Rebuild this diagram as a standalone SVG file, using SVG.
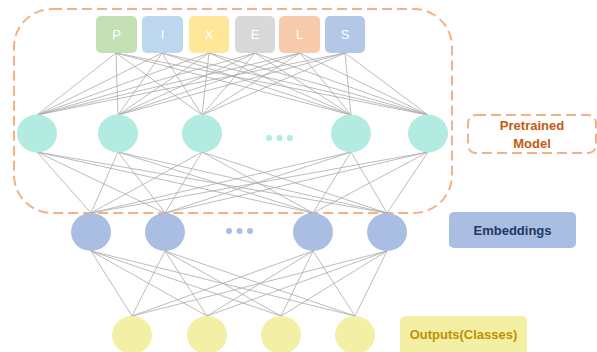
<svg xmlns="http://www.w3.org/2000/svg" width="597" height="352" viewBox="0 0 597 352">
<style>
.ln{stroke:#ababab;stroke-width:0.8;fill:none}
.dash{fill:none;stroke:#F4B183;stroke-width:2;stroke-dasharray:10 5}
.lt{font-family:"Liberation Sans",Arial,sans-serif;font-size:13px;fill:#ffffff;text-anchor:middle}
.lb{font-family:"Liberation Sans",Arial,sans-serif;font-size:13px;font-weight:bold;text-anchor:middle}
.cy{fill:#B2EBDF}
.bl{fill:#AABDE3}
.ye{fill:#F3F0A5}
</style>
<rect class="dash" x="14" y="9" width="438" height="204" rx="38" ry="38"/>
<g id="connectors">
<!-- letters to cyan -->
<path class="ln" d="M116,53L37,115M116,53L118,115M116,53L202,115M116,53L351,115M116,53L428,115
M162,53L37,115M162,53L118,115M162,53L202,115M162,53L351,115M162,53L428,115
M209,53L37,115M209,53L118,115M209,53L202,115M209,53L351,115M209,53L428,115
M255,53L37,115M255,53L118,115M255,53L202,115M255,53L351,115M255,53L428,115
M300,53L37,115M300,53L118,115M300,53L202,115M300,53L351,115M300,53L428,115
M345,53L37,115M345,53L118,115M345,53L202,115M345,53L351,115M345,53L428,115"/>
<!-- cyan to blue -->
<path class="ln" d="M37,152L91,213M37,152L165,213M37,152L313,213M37,152L387,213
M118,152L91,213M118,152L165,213M118,152L313,213M118,152L387,213
M202,152L91,213M202,152L165,213M202,152L313,213M202,152L387,213
M351,152L91,213M351,152L165,213M351,152L313,213M351,152L387,213
M428,152L91,213M428,152L165,213M428,152L313,213M428,152L387,213"/>
<!-- blue to yellow -->
<path class="ln" d="M91,251L132,316M91,251L207,316M91,251L281,316M91,251L355,316
M165,251L132,316M165,251L207,316M165,251L281,316M165,251L355,316
M313,251L132,316M313,251L207,316M313,251L281,316M313,251L355,316
M387,251L132,316M387,251L207,316M387,251L281,316M387,251L355,316"/>
</g>
<g id="letter-P"><rect x="96" y="16" width="41" height="37" rx="5" fill="#C5E0B4"/><text class="lt" x="116.5" y="39">P</text></g>
<g id="letter-I"><rect x="142" y="16" width="41" height="37" rx="5" fill="#BDD7EE"/><text class="lt" x="162.5" y="39">I</text></g>
<g id="letter-X"><rect x="189" y="16" width="40" height="37" rx="5" fill="#FFE699"/><text class="lt" x="209" y="39">X</text></g>
<g id="letter-E"><rect x="235" y="16" width="40" height="37" rx="5" fill="#D9D9D9"/><text class="lt" x="255" y="39">E</text></g>
<g id="letter-L"><rect x="279" y="16" width="41" height="37" rx="5" fill="#F8CBAD"/><text class="lt" x="299.5" y="39">L</text></g>
<g id="letter-S"><rect x="325" y="16" width="40" height="37" rx="5" fill="#B4C7E7"/><text class="lt" x="345" y="39">S</text></g>
<g id="hidden-1"><ellipse class="cy" cx="37" cy="133.5" rx="20" ry="19"/></g>
<g id="hidden-2"><ellipse class="cy" cx="118" cy="133.5" rx="20" ry="19"/></g>
<g id="hidden-3"><ellipse class="cy" cx="202" cy="133.5" rx="20" ry="19"/></g>
<g id="hidden-dots"><circle class="cy" cx="269" cy="138" r="3"/><circle class="cy" cx="279.5" cy="138" r="3"/><circle class="cy" cx="290" cy="138" r="3"/></g>
<g id="hidden-4"><ellipse class="cy" cx="351" cy="133.5" rx="20" ry="19"/></g>
<g id="hidden-5"><ellipse class="cy" cx="428" cy="133.5" rx="20" ry="19"/></g>
<g id="emb-1"><ellipse class="bl" cx="91" cy="232" rx="20" ry="19"/></g>
<g id="emb-2"><ellipse class="bl" cx="165" cy="232" rx="20" ry="19"/></g>
<g id="emb-dots"><circle class="bl" cx="229" cy="231" r="3"/><circle class="bl" cx="239.5" cy="231" r="3"/><circle class="bl" cx="250" cy="231" r="3"/></g>
<g id="emb-3"><ellipse class="bl" cx="313" cy="232" rx="20" ry="19"/></g>
<g id="emb-4"><ellipse class="bl" cx="387" cy="232" rx="20" ry="19"/></g>
<g id="out-1"><ellipse class="ye" cx="132" cy="335" rx="20" ry="19"/></g>
<g id="out-2"><ellipse class="ye" cx="207" cy="335" rx="20" ry="19"/></g>
<g id="out-3"><ellipse class="ye" cx="281" cy="335" rx="20" ry="19"/></g>
<g id="out-4"><ellipse class="ye" cx="355" cy="335" rx="20" ry="19"/></g>
<g id="label-pretrained"><rect class="dash" x="468" y="115" width="128" height="38" rx="8"/><text class="lb" x="532" y="130" fill="#C55A11">Pretrained</text><text class="lb" x="532" y="148" fill="#C55A11">Model</text></g>
<g id="label-embeddings"><rect x="449" y="212" width="127" height="36" rx="5" fill="#AABDE3"/><text class="lb" x="512.5" y="235" fill="#203864">Embeddings</text></g>
<g id="label-outputs"><rect x="400" y="316" width="127" height="40" rx="5" fill="#F3F0A5"/><text class="lb" x="463.5" y="339" fill="#BF9000">Outputs(Classes)</text></g>
</svg>
